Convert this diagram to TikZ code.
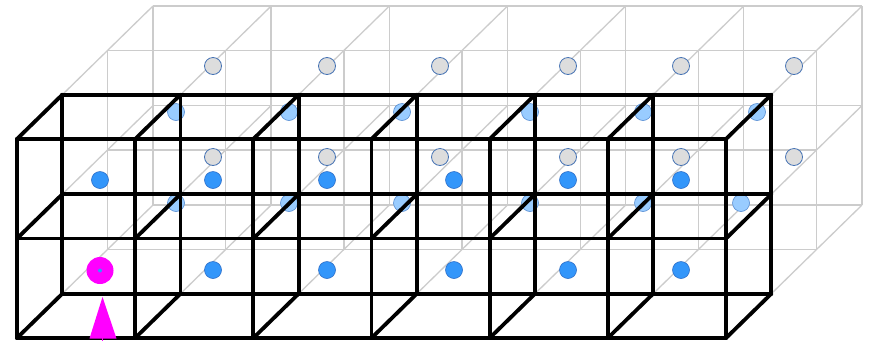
\documentclass[tikz,border=0pt]{standalone}
\definecolor{gridgray}{RGB}{204,204,204}
\definecolor{dotblue}{RGB}{51,150,250}
\definecolor{dotblueline}{RGB}{45,110,200}
\definecolor{lightblue}{RGB}{153,204,255}
\definecolor{lightblueline}{RGB}{85,140,210}
\definecolor{dotgray}{RGB}{221,221,221}
\definecolor{dotgrayline}{RGB}{70,115,180}
\definecolor{mag}{RGB}{255,0,255}
\tikzset{
  gl/.style={draw=gridgray, line width=1.3pt},
  bl/.style={draw=black, line width=3.8pt, line cap=round, line join=round},
  bluedot/.style={fill=dotblue, draw=dotblueline, line width=0.6pt},
  lbluedot/.style={fill=lightblue, draw=lightblueline, line width=0.6pt},
  graydot/.style={fill=dotgray, draw=dotgrayline, line width=0.8pt},
}
\begin{document}
\begin{tikzpicture}[x=1pt,y=-1pt]
\useasboundingbox[fill=white] (0,0) rectangle (869,341);
\def\dx{118.17}
\def\dy{99.5}
\def\ox{45.3}
\def\oy{-44.3}
\def\r{8.5}
% gray lattice: faces at depth 2 and 3
\foreach \d in {2,3} {
  \foreach \i in {0,...,6}
    \draw[gl] ({17+\i*\dx+\d*\ox},{139+\d*\oy}) -- ++(0,{2*\dy});
  \foreach \j in {0,1,2}
    \draw[gl] ({17+\d*\ox},{139+\j*\dy+\d*\oy}) -- ++({6*\dx},0);
}
% gray depth edges from depth 1 to depth 3
\foreach \i in {0,...,6}
  \foreach \j in {0,1,2}
    \draw[gl] ({17+\i*\dx+\ox},{139+\j*\dy+\oy}) -- ++({2*\ox},{2*\oy});
% gray dots
\foreach \x in {213,327,440,568,681,794} {
  \draw[graydot] (\x,66) circle (\r);
  \draw[graydot] (\x,157) circle (\r);
}
% light blue dots
\foreach \x in {176,289,402,530,643,757}
  \draw[lbluedot] (\x,112) circle (\r);
\foreach \x in {176,289,402,530,643,741}
  \draw[lbluedot] (\x,203) circle (\r);
% black lattice: faces at depth 0 and 1
\foreach \d in {0,1} {
  \foreach \i in {0,...,6}
    \draw[bl] ({17+\i*\dx+\d*\ox},{139+\d*\oy}) -- ++(0,{2*\dy});
  \foreach \j in {0,1,2}
    \draw[bl] ({17+\d*\ox},{139+\j*\dy+\d*\oy}) -- ++({6*\dx},0);
}
\foreach \i in {0,...,6}
  \foreach \j in {0,1,2}
    \draw[bl] ({17+\i*\dx},{139+\j*\dy}) -- ++(\ox,\oy);
% blue dots
\foreach \x in {100,213,327,454,568,681}
  \draw[bluedot] (\x,180) circle (\r);
\foreach \x in {213,327,454,568,681}
  \draw[bluedot] (\x,270) circle (\r);
% magenta marker
\fill[mag] (100,270.5) circle (13.5);
\fill[dotblue] (100,270.5) circle (2);
\fill[mag] (89.5,338.5) -- (102.5,297) -- (116.5,338.5) -- cycle;
\draw[mag, line width=1.5pt] (102.5,336) -- (102.5,341);
\end{tikzpicture}
\end{document}
